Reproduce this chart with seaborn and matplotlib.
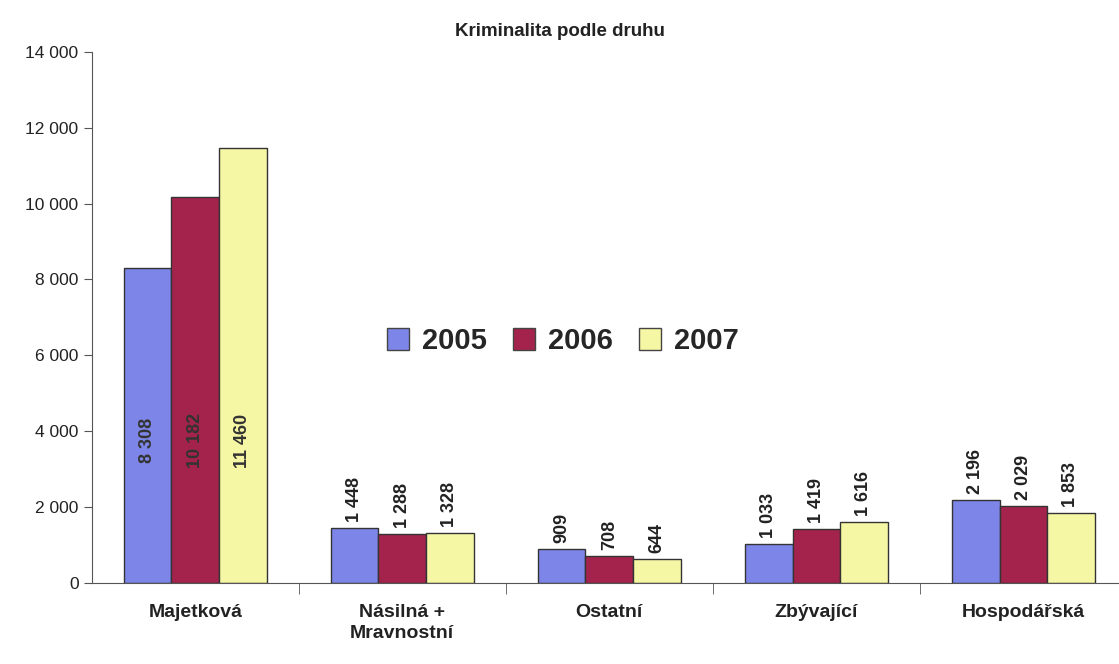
import numpy as np
import pandas as pd
import seaborn as sns
import matplotlib.pyplot as plt

# data
categories = ["Majetková", "Násilná +\nMravnostní", "Ostatní", "Zbývající", "Hospodářská"]
years = ["2005", "2006", "2007"]
v2005 = [8308, 1448, 909, 1033, 2196]
v2006 = [10182, 1288, 708, 1419, 2029]
v2007 = [11460, 1328, 644, 1616, 1853]
yticks = [0, 2000, 4000, 6000, 8000, 10000, 12000, 14000]

df = pd.DataFrame({
    "druh": categories * 3,
    "rok": sum([[y] * len(categories) for y in years], []),
    "pocet": v2005 + v2006 + v2007,
})

colors = ["#7d86e8", "#a3234d", "#f6f7a4"]

sns.set_style("white")
plt.rcParams['font.family'] = ['Liberation Sans', 'DejaVu Sans']

fig = plt.figure(figsize=(11.19, 6.64), dpi=100)
ax = fig.add_axes([0.082, 0.122, 0.925, 0.8])

sns.barplot(data=df, x="druh", y="pocet", hue="rok", palette=colors,
            width=0.69, gap=0, edgecolor="#333333", linewidth=1.0,
            saturation=1, ax=ax)

ax.set_ylim(0, 14000)
ax.set_xlim(-0.5, 4.5)
ax.set_yticks(yticks)
ax.set_yticklabels([f"{t:,}".replace(",", " ") for t in yticks], fontsize=12.5, color="#222222")
ax.set_xticks(range(len(categories)))
ax.set_xticklabels(categories, fontsize=14, fontweight="bold", color="#222222",
                   linespacing=1.35)
ax.tick_params(axis="x", length=0, pad=15)
ax.tick_params(axis="y", length=6, color="#555555", direction="out", left=True)
# tick marks between the categories
ax.set_xticks(np.arange(0.5, len(categories) - 0.5, 1), minor=True)
ax.tick_params(axis="x", which="minor", length=8, color="#555555", direction="out", bottom=True)

for s in ["top", "right"]:
    ax.spines[s].set_visible(False)
ax.spines["left"].set_color("#555555")
ax.spines["bottom"].set_color("#555555")
ax.set_xlabel("")
ax.set_ylabel("")

# value labels
for cont in ax.containers:
    for i, p in enumerate(cont.patches):
        h = p.get_height()
        x = p.get_x() + p.get_width() / 2
        txt = f"{int(h):,}".replace(",", " ")
        if h > 5000:
            ax.text(x, 3750, txt, rotation=90, ha="center", va="center",
                    fontsize=13, fontweight="bold", color="#333333")
        else:
            ax.text(x, h + 150, txt, rotation=90, ha="center", va="bottom",
                    fontsize=13, fontweight="bold", color="#222222")

ax.legend(loc="center", bbox_to_anchor=(0.455, 0.455), ncol=3, frameon=False,
          prop={"size": 21, "weight": "bold"}, handlelength=0.75, handleheight=0.75,
          columnspacing=0.9, handletextpad=0.45)
for h in ax.get_legend().legend_handles:
    h.set_edgecolor("#444444")

fig.text(0.5, 0.952, "Kriminalita podle druhu", ha="center", va="center",
         fontsize=13.5, fontweight="bold", color="#222222")

plt.savefig("out.png", dpi=100)
